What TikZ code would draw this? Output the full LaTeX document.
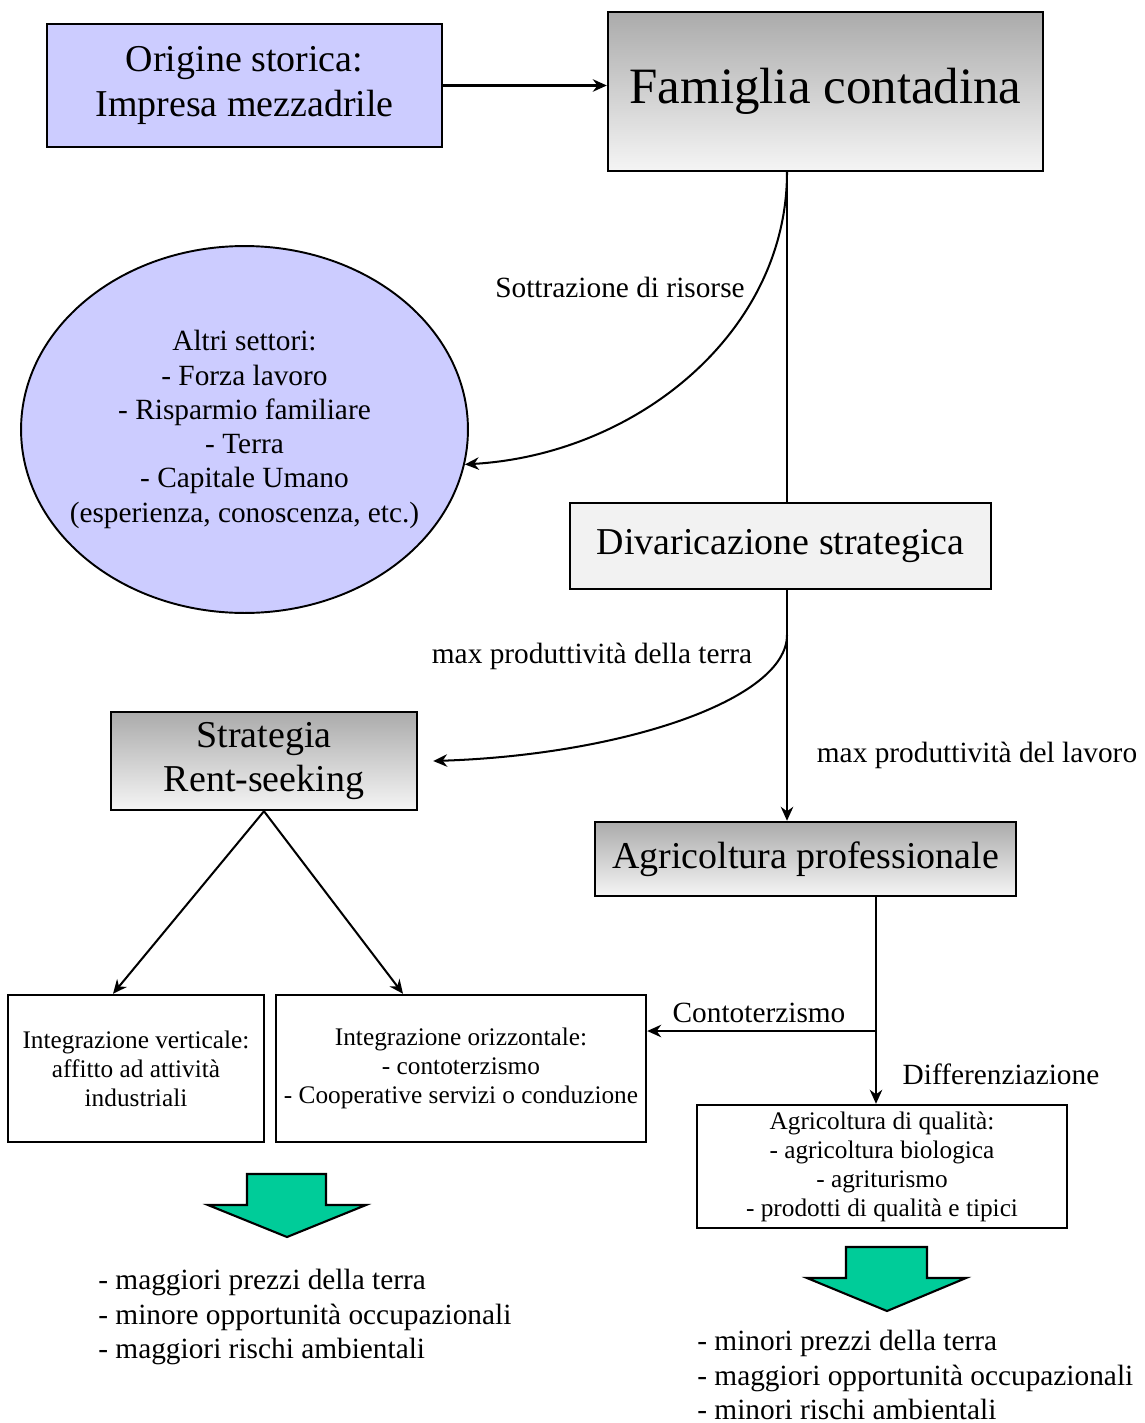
\documentclass[tikz,border=0pt]{standalone}
\usepackage{fontspec}
\setmainfont{Liberation Serif}
\usepackage{tikz}
\usetikzlibrary{arrows.meta,shapes.geometric}
\definecolor{lilla}{RGB}{204,204,255}
\definecolor{verde}{RGB}{0,204,153}
\definecolor{grigiochiaro}{RGB}{242,242,242}

\begin{document}
\begin{tikzpicture}[x=0.02cm,y=-0.02cm,
  box/.style={draw,line width=1.4pt,inner sep=0pt,align=center},
  sfumato/.style={box,top color=black!33,bottom color=black!4},
  freccia/.style={line width=1.15pt,-{Stealth[length=2.8mm,width=2.5mm]}},
  linea/.style={line width=1.15pt},
  grande/.style={font=\fontsize{21.6}{25.5}\selectfont},
  medio/.style={font=\fontsize{16.7}{19.5}\selectfont},
  piccolo/.style={font=\fontsize{14.4}{16.5}\selectfont},
  giu/.style={draw=black,line width=1.2pt,fill=verde}]
\useasboundingbox (0,0) rectangle (1145,1423);

% riquadri
\node[box,grande,fill=lilla,minimum width=7.9cm,minimum height=2.46cm] (origine) at (244.5,85.5) {Origine storica:\\Impresa mezzadrile};
\node[sfumato,font=\fontsize{29}{34}\selectfont,minimum width=8.7cm,minimum height=3.18cm] (famiglia) at (825.5,91.5) {Famiglia contadina};
\node[draw,line width=1.1pt,ellipse,fill=lilla,minimum width=8.94cm,minimum height=7.34cm,inner sep=0pt] (altri) at (244.5,429.5) {};
\node[medio,align=center] (altrit) at (altri) {Altri settori:\\- Forza lavoro\\- Risparmio familiare\\- Terra\\- Capitale Umano\\(esperienza, conoscenza, etc.)};
\node[box,grande,fill=grigiochiaro,minimum width=8.42cm,minimum height=1.72cm] (divaricazione) at (780.5,546) {Divaricazione strategica};
\node[sfumato,grande,minimum width=6.12cm,minimum height=1.96cm] (strategia) at (264,761) {Strategia\\Rent-seeking};
\node[sfumato,grande,minimum width=8.42cm,minimum height=1.48cm] (professionale) at (805.5,859) {Agricoltura professionale};
\node[box,piccolo,minimum width=5.12cm,minimum height=2.94cm] (verticale) at (136,1068.5) {Integrazione verticale:\\affitto ad attività\\industriali};
\node[box,piccolo,minimum width=7.4cm,minimum height=2.94cm] (orizzontale) at (461,1068.5) {Integrazione orizzontale:\\- contoterzismo\\- Cooperative servizi o conduzione};
\node[box,piccolo,minimum width=7.4cm,minimum height=2.46cm] (qualita) at (882,1166.5) {Agricoltura di qualità:\\- agricoltura biologica\\- agriturismo\\- prodotti di qualità e tipici};

\coordinate (asse) at (787,0);
\coordinate (asse2) at (876,0);
\coordinate (bivio) at (787,635);
\coordinate (ramo) at (876,1031);

% collegamenti
\draw[freccia] (origine.east) -- (origine.east -| famiglia.west);
\draw[linea] (famiglia.south -| asse) -- (divaricazione.north -| asse);
\draw[freccia] (famiglia.south -| asse) .. controls +(0,160) and +(172,-10) .. (altri.-9);
\draw[freccia] (divaricazione.south -| asse) -- (professionale.north -| asse);
\draw[freccia] (bivio) .. controls +(0,65) and +(188,-6) .. ([xshift=0.3cm]strategia.east);
\draw[freccia] (strategia.south) -- ([xshift=-0.46cm]verticale.north);
\draw[freccia] (strategia.south) -- ([xshift=-1.16cm]orizzontale.north);
\draw[freccia] (professionale.south -| asse2) -- (qualita.north -| asse2);
\draw[freccia] (ramo) -- (ramo -| orizzontale.east);

% etichette
\node[medio] (sottrazione) at (620,287) {Sottrazione di risorse};
\node[medio] (terra) at (592,656) {max produttività della terra};
\node[medio] (lavoro) at (977,755) {max produttività del lavoro};
\node[medio] (conto) at (759,1013) {Contoterzismo};
\node[medio] (diff) at (1001,1074) {Differenziazione};

% frecce verdi
\draw[giu] (247,1174) -- (326,1174) -- (326,1205) -- (366,1205) -- (287,1237) -- (208,1205) -- (247,1205) -- cycle;
\draw[giu] (846,1247) -- (927,1247) -- (927,1278) -- (966,1278) -- (887,1311) -- (807,1278) -- (846,1278) -- cycle;

\node[medio,align=left,anchor=west,inner sep=0pt] (effetti1) at (98,1317) {- maggiori prezzi della terra\\- minore opportunità occupazionali\\- maggiori rischi ambientali};
\node[medio,align=left,anchor=west,inner sep=0pt] (effetti2) at (697,1375) {- minori prezzi della terra\\- maggiori opportunità occupazionali\\- minori rischi ambientali};
\end{tikzpicture}
\end{document}
